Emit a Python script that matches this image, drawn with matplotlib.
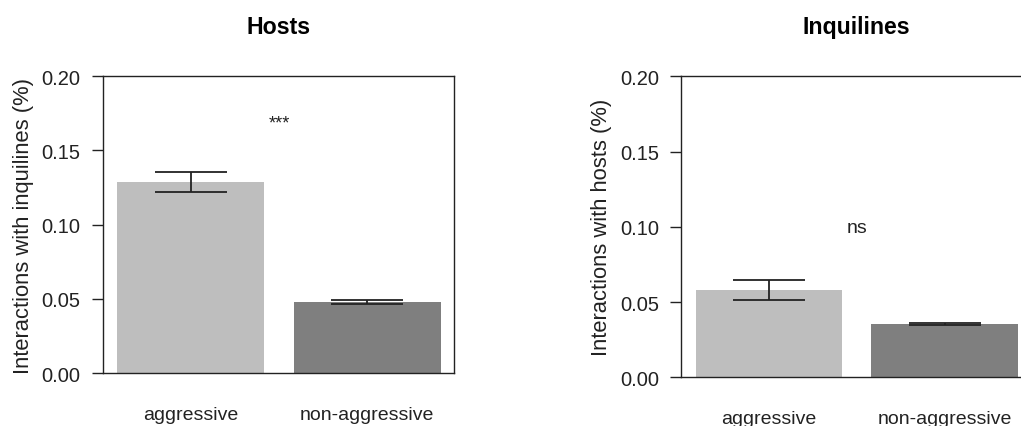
import matplotlib.pyplot as plt

plt.rcParams['font.family'] = ['Liberation Sans', 'DejaVu Sans']

# data
groups = ['aggressive', 'non-aggressive']
hosts_mean = [0.1290, 0.0478]
hosts_se = [0.0068, 0.0012]
inq_mean = [0.0580, 0.0355]
inq_se = [0.0067, 0.0007]
bar_colors = ['#BEBEBE', '#7F7F7F']
yticks = [0.00, 0.05, 0.10, 0.15, 0.20]

fig = plt.figure(figsize=(10.21, 4.27), dpi=100)
ax1 = fig.add_axes([0.1006, 0.1241, 0.3441, 0.6949])
ax2 = fig.add_axes([0.6670, 0.1140, 0.3428, 0.7050])

# R barplot style: width 1, space 0.2
xpos = [0.7, 1.9]

panels = [
    (ax1, hosts_mean, hosts_se, 'Hosts', 'Interactions with inquilines (%)', '***', 0.1685, 13),
    (ax2, inq_mean, inq_se, 'Inquilines', 'Interactions with hosts (%)', 'ns', 0.0997, 14),
]

for ax, means, ses, title, ylab, sig, sig_y, sig_fs in panels:
    ax.bar(xpos, means, width=1.0, color=bar_colors, edgecolor='none', zorder=2)
    ax.errorbar(xpos, means, yerr=ses, fmt='none', ecolor='#222222',
                elinewidth=1.3, capsize=26, capthick=1.3, zorder=3)
    ax.set_xlim(0.1, 2.49)
    ax.set_ylim(0, 0.2)
    ax.set_yticks(yticks)
    ax.set_yticklabels(['%.2f' % t for t in yticks])
    ax.set_xticks(xpos)
    ax.set_xticklabels(groups)
    ax.tick_params(axis='y', direction='out', length=8, width=1, pad=8,
                   labelsize=14.5, colors='#222222')
    ax.tick_params(axis='x', length=0, pad=23.5, labelsize=14, colors='#222222')
    for s in ax.spines.values():
        s.set_linewidth(1)
        s.set_color('#222222')
    ax.set_title(title, fontsize=16.7, fontweight='bold', pad=31)
    ax.set_ylabel(ylab, fontsize=15.8, color='#222222')
    ax.yaxis.set_label_coords(-0.197, 0.5)
    ax.text(1.30, sig_y, sig, fontsize=sig_fs, ha='center', va='center',
            color='#222222')

fig.savefig('out.png', dpi=100)
